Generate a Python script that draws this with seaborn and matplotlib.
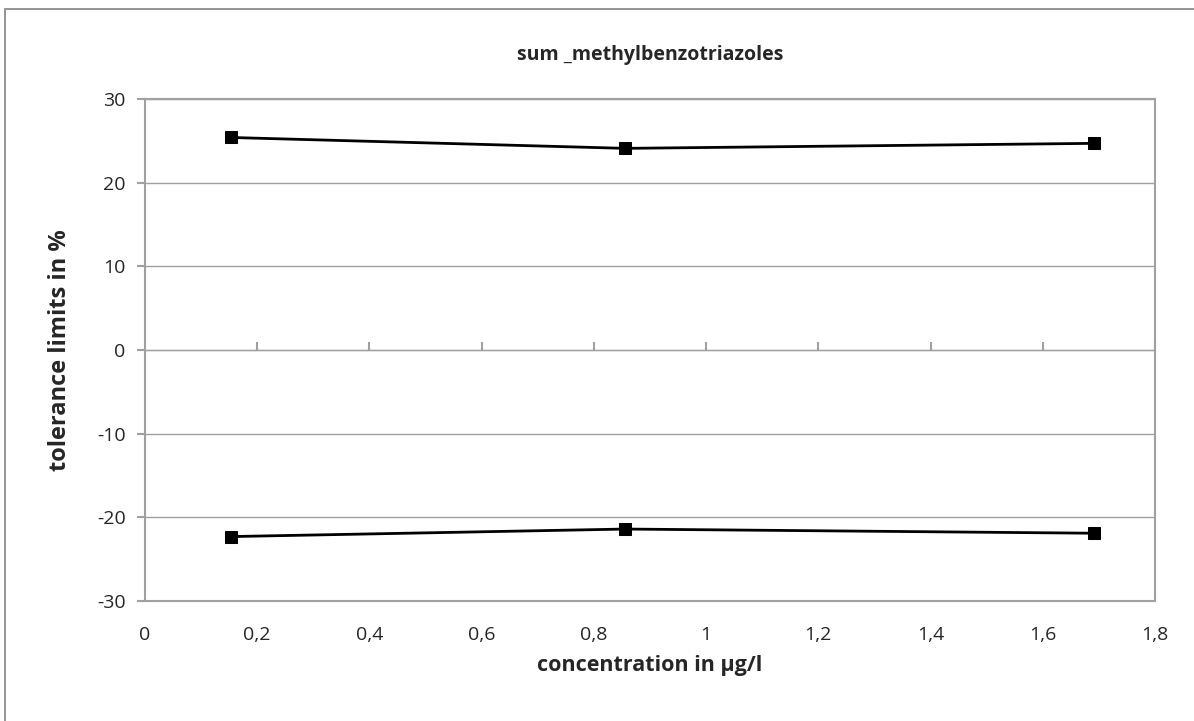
import matplotlib
matplotlib.use("Agg")
import matplotlib.pyplot as plt
import seaborn as sns
import pandas as pd
from matplotlib.patches import Rectangle

# data
conc = [0.153, 0.856, 1.692]
upper = [25.4, 24.1, 24.7]
lower = [-22.3, -21.4, -21.9]

xticks = [0, 0.2, 0.4, 0.6, 0.8, 1.0, 1.2, 1.4, 1.6, 1.8]
xlabels = ["0", "0,2", "0,4", "0,6", "0,8", "1", "1,2", "1,4", "1,6", "1,8"]
yticks = [-30, -20, -10, 0, 10, 20, 30]

df = pd.concat([
    pd.DataFrame({"conc": conc, "tol": upper, "limit": "upper"}),
    pd.DataFrame({"conc": conc, "tol": lower, "limit": "lower"}),
])

sns.set_style("white")
plt.rcParams["font.family"] = ["Open Sans", "DejaVu Sans"]
plt.rcParams["axes.unicode_minus"] = False

grey = "#a0a0a0"
fig = plt.figure(figsize=(11.94, 7.21), dpi=100)
ax = fig.add_axes([145 / 1194, 1 - 601 / 721, (1155 - 145) / 1194, (601 - 99) / 721])

# outer chart border (cropped at right/bottom like the original)
fig.patches.append(Rectangle((5 / 1194, -0.1), 1.2, 1 - 9 / 721 + 0.1,
                             transform=fig.transFigure, fill=False,
                             edgecolor="#8c8c8c", linewidth=1.3))

sns.lineplot(data=df, x="conc", y="tol", units="limit", estimator=None,
             color="black", linewidth=2, marker="s", markersize=9,
             markeredgecolor="black", ax=ax, zorder=5)

ax.set_xlim(0, 1.8)
ax.set_ylim(-30, 30)
ax.set_xticks(xticks)
ax.set_xticklabels(xlabels)
ax.set_yticks(yticks)
ax.yaxis.grid(True, color=grey, linewidth=1)
ax.set_axisbelow(True)

for s in ax.spines.values():
    s.set_color(grey)
    s.set_linewidth(1.5)

ax.tick_params(axis="x", length=0, pad=18, labelsize=14)
ax.tick_params(axis="y", length=6, width=1.5, color=grey, direction="out",
               pad=8, labelsize=14, left=True)

# x axis crossing at zero with tick marks
sec = ax.secondary_xaxis(0.5)
sec.set_xticks(xticks[1:])
sec.tick_params(direction="out", length=6, width=1.5, color=grey,
                labelbottom=False, labeltop=False)
sec.spines["bottom"].set_color(grey)
sec.spines["bottom"].set_linewidth(1.5)

ax.set_xlabel("concentration in µg/l", fontsize=15.5, fontweight="bold", labelpad=8)
ax.set_ylabel("tolerance limits in %", fontsize=17, fontweight="bold", labelpad=18)
ax.set_title("sum _methylbenzotriazoles", fontsize=14, fontweight="bold", pad=28)

fig.savefig("out.png", dpi=100)
